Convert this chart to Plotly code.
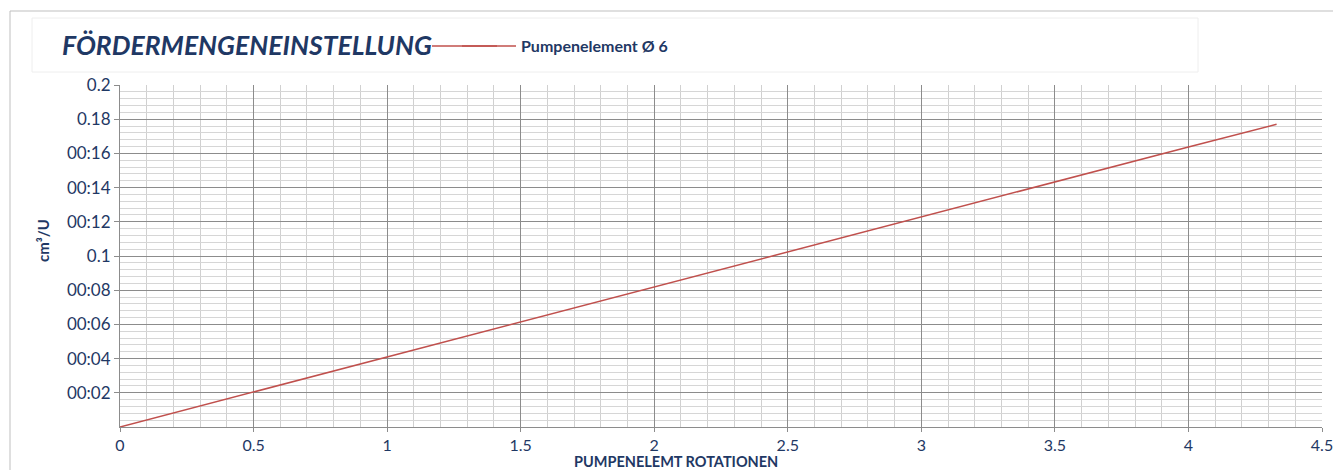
import plotly.graph_objects as go

rotations = [0, 1, 2, 3, 4, 4.33]
volume = [0, 0.041, 0.082, 0.1228, 0.1638, 0.177]
series_name = "<b>Pumpenelement Ø 6</b>"
y_tick_vals = [0.02, 0.04, 0.06, 0.08, 0.1, 0.12, 0.14, 0.16, 0.18, 0.2]
y_tick_text = ["00:02", "00:04", "00:06", "00:08", "0.1", "00:12", "00:14", "00:16", "0.18", "0.2"]
x_tick_vals = [0, 0.5, 1, 1.5, 2, 2.5, 3, 3.5, 4, 4.5]
x_tick_text = ["0", "0.5", "1", "1.5", "2", "2.5", "3", "3.5", "4", "4.5"]

NAVY = "#1F3864"
RED = "#C0504D"
FONT = "Lato, Liberation Sans, sans-serif"

# plot area: 1202 x 342 px; page has an 8px body margin
PW, PH = 1202, 342
def px(x):
    return (x - 120) / PW
def py(y):
    return (427 - y) / PH

fig = go.Figure()
fig.add_trace(go.Scatter(x=rotations, y=volume, mode="lines", name=series_name,
                         line=dict(color=RED, width=1.5)))

fig.update_layout(
    width=1333, height=462,
    margin=dict(l=112, r=19, t=77, b=43, autoexpand=False),
    paper_bgcolor="white", plot_bgcolor="white",
    font=dict(family=FONT, color=NAVY, size=16),
    showlegend=True,
    legend=dict(orientation="h", x=px(427), y=py(46), xanchor="left", yanchor="middle",
                font=dict(size=16, color=NAVY, family=FONT), bgcolor="rgba(0,0,0,0)",
                itemwidth=84),
    annotations=[
        dict(text="<b><i>FÖRDERMENGENEINSTELLUNG</i></b>", xref="paper", yref="paper",
             x=px(60), y=py(45), xanchor="left", yanchor="middle", showarrow=False,
             font=dict(size=26.5, color=NAVY, family=FONT)),
        dict(text="<b>PUMPENELEMT ROTATIONEN</b>", xref="paper", yref="paper",
             x=px(676), y=py(461), xanchor="center", yanchor="middle", showarrow=False,
             font=dict(size=14.5, color=NAVY, family=FONT)),
        dict(text="<b>cm³/U</b>", xref="paper", yref="paper", textangle=-90,
             x=px(43), y=py(241), xanchor="center", yanchor="middle", showarrow=False,
             font=dict(size=15, color=NAVY, family=FONT)),
    ],
    shapes=[
        dict(type="rect", xref="paper", yref="paper", x0=px(32), x1=px(1198), y0=py(72), y1=py(18),
             line=dict(color="#EEEEEE", width=1), fillcolor="rgba(0,0,0,0)", layer="below"),
        dict(type="line", xref="paper", yref="paper", x0=px(10), x1=px(1345), y0=py(11), y1=py(11),
             line=dict(color="#BFBFBF", width=1)),
        dict(type="line", xref="paper", yref="paper", x0=px(10), x1=px(10), y0=py(480), y1=py(11),
             line=dict(color="#BFBFBF", width=1)),
        # legend line extension (reference legend sample is longer than plotly's)
        dict(type="line", xref="paper", yref="paper", x0=px(462), x1=px(497), y0=py(46), y1=py(46),
             line=dict(color=RED, width=1.5)),
    ],
)

fig.update_xaxes(
    range=[0, 4.5], tickvals=x_tick_vals, ticktext=x_tick_text, automargin=False,
    showgrid=True, gridcolor="#8C8C8C", gridwidth=1,
    minor=dict(dtick=0.1, showgrid=True, gridcolor="#D0D0D0", gridwidth=1),
    showline=True, linecolor="#8C8C8C", ticks="outside", ticklen=4, tickcolor="#8C8C8C",
    zeroline=False, tickfont=dict(size=16, color=NAVY),
)
fig.update_yaxes(
    range=[0, 0.2], tickvals=y_tick_vals, ticktext=y_tick_text, automargin=False,
    showgrid=True, gridcolor="#8C8C8C", gridwidth=1,
    minor=dict(dtick=0.004, tick0=0, showgrid=True, gridcolor="#D6D6D6", gridwidth=1),
    showline=True, linecolor="#8C8C8C", ticks="outside", ticklen=5, tickcolor="#8C8C8C",
    zeroline=False, tickfont=dict(size=17, color=NAVY),
)

fig.write_html("out.html")
